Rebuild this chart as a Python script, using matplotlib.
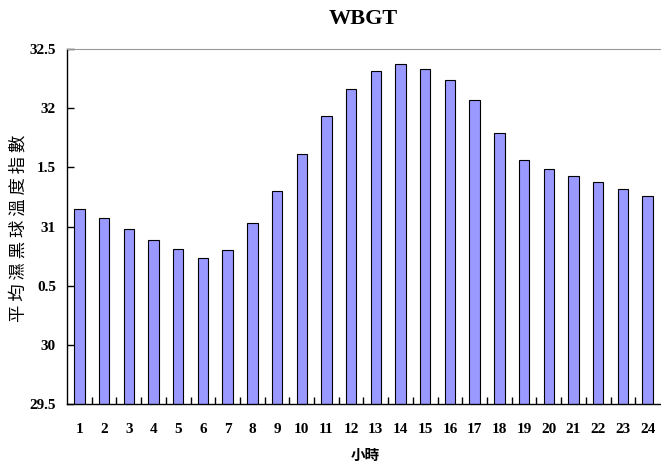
import matplotlib.pyplot as plt
from matplotlib.ticker import FixedLocator, FixedFormatter

# -----------------------------
# Data
# -----------------------------
hours = list(range(1, 25))
wbgt = [31.15, 31.07, 30.98, 30.89, 30.81, 30.73, 30.80, 31.03,
        31.30, 31.61, 31.93, 32.16, 32.31, 32.37, 32.33, 32.24,
        32.07, 31.79, 31.56, 31.49, 31.43, 31.38, 31.32, 31.26]
y_ticks = [29.5, 30, 30.5, 31, 31.5, 32, 32.5]
y_tick_labels = ["29.5", "30", "0.5", "31", "1.5", "32", "32.5"]

# -----------------------------
# Plot
# -----------------------------
fig = plt.figure(figsize=(6.61, 4.68), dpi=100)
ax = fig.add_axes([67 / 661, 64 / 468, 593 / 661, 355 / 468])

ax.bar(hours, wbgt, width=0.42, color="#9999FF", edgecolor="black", linewidth=0.8)

ax.set_xlim(0.5, 24.5)
ax.set_ylim(29.5, 32.5)

ax.yaxis.set_major_locator(FixedLocator(y_ticks))
ax.yaxis.set_major_formatter(FixedFormatter(y_tick_labels))
ax.set_xticks(hours)
ax.set_xticks([h + 0.5 for h in hours[:-1]], minor=True)

for lab in ax.get_xticklabels() + ax.get_yticklabels():
    lab.set_fontfamily("Liberation Serif")
    lab.set_fontweight("bold")
    lab.set_fontsize(11)

ax.tick_params(axis="x", which="major", length=0, pad=14)
ax.tick_params(axis="x", which="minor", direction="in", length=5, width=1)
ax.tick_params(axis="y", direction="in", length=5, width=1, pad=8)

ax.spines["right"].set_visible(False)
ax.spines["top"].set_color("#999999")
ax.spines["left"].set_linewidth(1)
ax.spines["bottom"].set_linewidth(1)

fig.text(363 / 661, 1 - 19 / 468, "WBGT", ha="center", va="center",
         family="Liberation Serif", weight="bold", fontsize=16)
fig.text(365 / 661, 1 - 455 / 468, "小時", ha="center", va="center",
         family=["Noto Sans CJK TC", "DejaVu Sans"], weight="bold", fontsize=10.5)
fig.text(19 / 661, 1 - 228 / 468, " ".join("平均濕黑球溫度指數"), ha="center", va="center",
         rotation=90, family=["Noto Sans CJK TC", "DejaVu Sans"], fontsize=12.5)

fig.savefig("out.png", dpi=100)
plt.close(fig)
